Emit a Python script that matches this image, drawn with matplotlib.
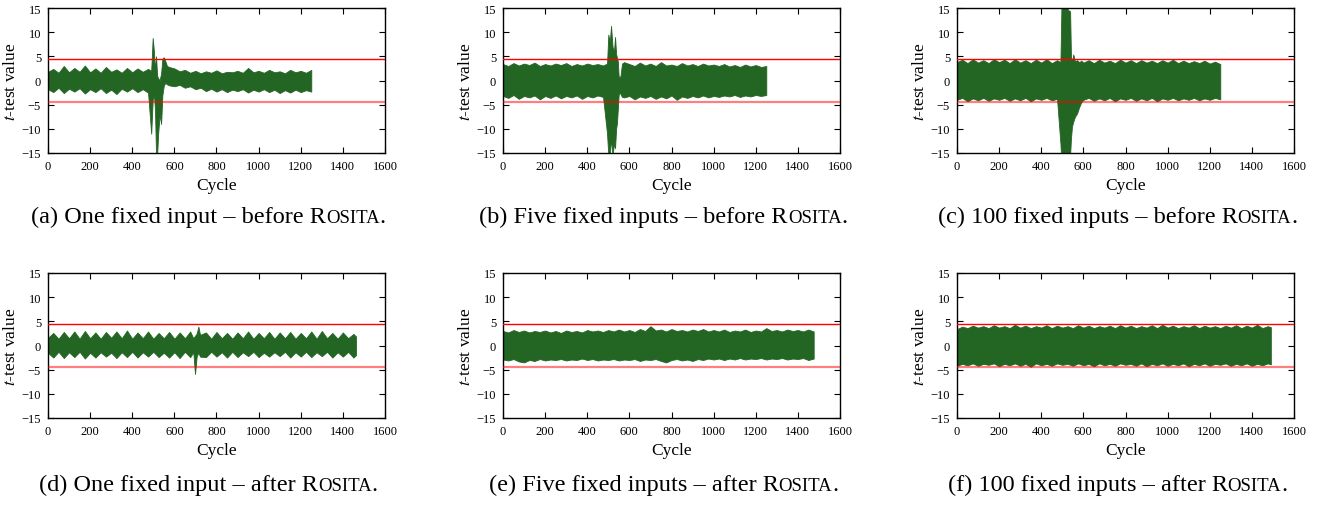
import matplotlib
matplotlib.use("Agg")
from matplotlib import pyplot as plt
from matplotlib.offsetbox import TextArea, HPacker, AnnotationBbox

plt.rcParams['font.family'] = ['Liberation Serif', 'DejaVu Serif']
plt.rcParams['mathtext.fontset'] = 'stix'

# ---- envelope of the t-test traces (cycle, upper, lower) ----
pre = list(range(0, 476, 25))
post = list(range(600, 1251, 25))

cyc_a = pre + [490, 497, 503, 508, 513, 518, 523, 530, 537, 543, 550, 557, 565, 575] + post
up_a = [1.8, 2.4, 1.6, 3.0, 1.7, 2.6, 1.8, 3.1, 1.7, 2.5, 1.6, 2.8, 1.8, 2.3, 1.6, 2.6, 1.7, 2.5, 1.8, 2.4,
        2.0, 8.8, 6.0, 2.0, 5.0, 1.0, 0.5, 0.0, 1.5, 4.5, 4.8, 4.0, 3.0, 2.8,
        2.5, 1.9, 2.2, 1.6, 2.0, 1.5, 1.9, 1.6, 2.1, 1.5, 1.8, 1.7, 2.0, 1.6, 2.6, 1.7, 2.0, 1.6, 2.2, 1.7,
        1.9, 1.5, 2.2, 1.7, 2.0, 1.6, 2.2]
lo_a = [-1.8, -2.4, -1.5, -2.6, -1.7, -2.3, -1.6, -2.7, -1.8, -2.4, -1.6, -2.6, -1.9, -2.8, -1.7, -2.3,
        -1.6, -2.4, -1.8, -2.5,
        -11.0, -4.0, -3.0, -6.0, -15.5, -15.5, -11.0, -7.0, -9.0, -3.0, -1.0, -0.5, -0.8, -1.0,
        -1.2, -0.9, -1.5, -1.2, -1.8, -1.5, -2.2, -1.7, -2.3, -1.8, -2.4, -1.9, -2.2, -1.8, -2.5, -1.9,
        -2.3, -1.8, -2.4, -1.9, -2.6, -2.0, -2.5, -1.9, -2.4, -2.0, -2.3]

cyc_b = pre + [494, 500, 507, 513, 520, 527, 532, 537, 541, 545, 549, 553, 558, 565, 575] + post
up_b = [3.4, 3.0, 3.6, 3.1, 3.5, 3.2, 3.7, 3.0, 3.4, 3.1, 3.5, 3.2, 3.6, 3.0, 3.4, 3.1, 3.5, 3.2, 3.4, 3.1,
        3.5, 9.5, 8.0, 11.3, 7.0, 6.0, 9.0, 5.5, 4.7, 4.0, 1.0, 0.5, 1.0, 3.5, 3.8,
        3.4, 3.0, 3.7, 3.1, 3.5, 3.0, 3.8, 3.1, 3.3, 3.0, 3.6, 3.1, 3.4, 3.0, 3.5, 3.1, 3.3, 3.0, 3.4, 2.9,
        3.2, 2.8, 3.3, 2.9, 3.2, 2.8, 3.0]
lo_b = [-3.2, -3.6, -3.0, -3.8, -3.2, -3.5, -3.1, -3.9, -3.2, -3.6, -3.1, -3.7, -3.2, -3.5, -3.1, -3.8,
        -3.2, -3.5, -3.1, -3.4,
        -11.0, -15.5, -15.5, -12.0, -15.5, -13.0, -14.0, -10.0, -8.8, -6.0, -3.0, -2.5, -2.8, -3.4, -3.5,
        -3.2, -3.9, -3.3, -3.6, -3.2, -3.8, -3.3, -3.7, -3.1, -4.0, -3.3, -3.6, -3.2, -3.5, -3.1, -3.5,
        -3.2, -3.4, -3.1, -3.3, -3.0, -3.4, -3.1, -3.3, -3.0, -3.2, -3.0]

cyc_c = pre + [491, 497, 505, 515, 521, 526, 532, 537, 541, 546, 552, 560, 570, 580, 590] + post
up_c = [3.8, 4.3, 3.6, 4.4, 3.7, 4.2, 3.6, 4.4, 3.8, 4.3, 3.6, 4.4, 3.7, 4.2, 3.6, 4.3, 3.7, 4.4, 3.6, 4.2,
        3.8, 18, 18, 18, 18, 14.5, 14.5, 14.3, 5.0, 3.8, 5.4, 4.0, 4.2, 3.8, 4.1,
        3.7, 4.2, 3.6, 4.3, 3.7, 4.1, 3.6, 4.3, 3.7, 4.2, 3.6, 4.2, 3.7, 4.1, 3.6, 4.2, 3.7, 4.3, 3.6, 4.1,
        3.6, 4.0, 3.6, 4.1, 3.5, 3.9, 3.4]
lo_c = [-4.0, -3.6, -4.3, -3.7, -4.1, -3.6, -4.2, -3.7, -4.0, -3.6, -4.2, -3.7, -4.1, -3.6, -4.3, -3.7,
        -4.0, -3.6, -4.1, -3.8,
        -13.0, -18, -18, -18, -18, -18, -18, -15.5, -12.0, -9.5, -8.5, -7.5, -6.8, -5.5, -4.5,
        -4.0, -3.6, -4.2, -3.7, -4.1, -3.6, -4.3, -3.7, -4.0, -3.6, -4.2, -3.7, -4.1, -3.6, -4.3, -3.7,
        -4.0, -3.6, -4.1, -3.7, -4.0, -3.6, -4.1, -3.7, -4.0, -3.6, -3.9]

cyc_d = list(range(0, 676, 25)) + [690, 698, 706, 714, 722] + list(range(750, 1451, 25)) + [1462]
up_d = [1.6, 2.6, 1.4, 2.8, 1.5, 2.9, 1.4, 3.0, 1.5, 2.7, 1.4, 2.8, 1.6, 2.9, 1.5, 3.1, 1.4, 2.7, 1.5, 2.9,
        1.4, 2.6, 1.5, 2.8, 1.4, 2.7, 1.5, 2.9,
        1.5, 2.0, 2.5, 3.9, 2.2,
        2.7, 1.4, 2.8, 1.5, 2.6, 1.4, 2.7, 1.5, 2.9, 1.4, 2.6, 1.5, 2.8, 1.4, 2.7, 1.5, 2.8, 1.4, 2.6, 1.5,
        2.9, 1.4, 3.0, 1.5, 2.6, 1.4, 2.7, 1.5, 2.4,
        1.9]
lo_d = [-1.5, -2.5, -1.3, -2.6, -1.4, -2.4, -1.3, -2.7, -1.5, -2.5, -1.4, -2.3, -1.5, -2.6, -1.4, -2.4,
        -1.3, -2.5, -1.4, -2.3, -1.3, -2.4, -1.5, -2.5, -1.4, -2.6, -1.3, -2.4,
        -1.4, -5.9, -2.2, -1.5, -2.3,
        -2.4, -1.3, -2.3, -1.4, -2.5, -1.3, -2.4, -1.4, -2.2, -1.3, -2.4, -1.5, -2.3, -1.4, -2.2, -1.3,
        -2.5, -1.4, -2.3, -1.3, -2.4, -1.4, -2.2, -1.3, -2.5, -1.4, -2.3, -1.3, -2.5,
        -2.0]

cyc_e = list(range(0, 1476, 25))
up_e = [3.0, 2.7, 3.2, 2.8, 3.1, 2.7, 3.0, 2.8, 3.1, 2.7, 3.0, 2.6, 3.1, 2.8, 3.0, 2.7, 3.2, 2.9, 3.1, 2.8,
        3.2, 2.9, 3.3, 2.9, 3.2, 2.8, 3.4, 3.0, 4.0, 3.1, 3.3, 2.9, 3.4, 3.0, 3.2, 2.9, 3.3, 3.0, 3.4, 2.9,
        3.2, 2.9, 3.3, 2.8, 3.1, 2.9, 3.3, 2.8, 3.1, 2.9, 3.6, 3.0, 3.2, 2.9, 3.3, 3.0, 3.2, 2.9, 3.3, 2.9]
lo_e = [-2.9, -3.1, -2.8, -3.3, -3.5, -3.0, -3.2, -2.8, -3.1, -2.9, -3.0, -2.8, -3.1, -2.9, -3.0, -2.7,
        -3.0, -2.8, -3.1, -2.9, -3.0, -2.8, -3.1, -2.9, -3.0, -2.8, -3.2, -2.9, -3.0, -2.8, -3.2, -3.5,
        -3.0, -2.8, -3.1, -2.9, -3.2, -2.8, -3.0, -2.7, -2.9, -2.7, -3.0, -2.7, -2.9, -2.6, -2.9, -2.7,
        -2.8, -2.6, -2.9, -2.7, -2.8, -2.6, -2.9, -2.7, -2.8, -2.6, -3.0, -2.7]

cyc_f = list(range(0, 1476, 25)) + [1490]
up_f = [3.4, 3.9, 3.6, 4.1, 3.7, 4.0, 3.6, 4.2, 3.7, 4.0, 3.6, 4.3, 3.7, 4.1, 3.6, 4.0, 3.7, 4.2, 3.6, 4.1,
        3.7, 4.0, 3.6, 4.2, 3.7, 4.1, 3.6, 4.0, 3.7, 4.1, 3.6, 4.2, 3.7, 4.1, 3.6, 4.0, 3.7, 4.2, 3.6, 4.3,
        3.7, 4.1, 3.6, 4.0, 3.7, 4.2, 3.6, 4.1, 3.7, 4.0, 3.6, 4.1, 3.7, 4.2, 3.6, 4.1, 3.7, 4.3, 3.6, 4.0,
        3.8]
lo_f = [-4.2, -3.8, -4.1, -3.7, -4.2, -3.8, -4.0, -3.7, -4.3, -3.8, -4.1, -3.7, -4.2, -3.8, -4.4, -3.7,
        -4.1, -3.8, -4.2, -3.7, -4.0, -3.8, -4.2, -3.7, -4.1, -3.8, -4.3, -3.7, -4.1, -3.8, -4.2, -3.7,
        -4.0, -3.8, -4.2, -3.7, -4.3, -3.8, -4.1, -3.7, -4.2, -3.8, -4.1, -3.7, -4.3, -3.8, -4.1, -3.7,
        -4.2, -3.8, -4.0, -3.7, -4.2, -3.8, -4.1, -3.7, -4.2, -3.8, -4.1, -3.7, -3.9]

threshold = 4.5
letters = ['a', 'b', 'c', 'd', 'e', 'f']
counts = ['One fixed input', 'Five fixed inputs', '100 fixed inputs'] * 2
stage = ['before'] * 3 + ['after'] * 3
traces = [(cyc_a, up_a, lo_a), (cyc_b, up_b, lo_b), (cyc_c, up_c, lo_c),
          (cyc_d, up_d, lo_d), (cyc_e, up_e, lo_e), (cyc_f, up_f, lo_f)]

green = '#236523'

fig = plt.figure(figsize=(13.21, 5.06), dpi=100)

lefts = [48, 503, 957]
tops = [9, 274]
W, H = 1321, 506

for i, (cyc, up, lo) in enumerate(traces):
    row, col = divmod(i, 3)
    x0 = lefts[col]
    y0 = tops[row]
    ax = fig.add_axes([x0 / W, 1 - (y0 + 145) / H, 337 / W, 145 / H])
    ax.fill_between(cyc, lo, up, color=green, lw=0.6, zorder=2)
    ax.axhline(threshold, color='#ff0000', lw=1.0, zorder=3)
    ax.axhline(-threshold, color='#ff0000', lw=1.6, alpha=0.5, zorder=3)
    ax.set_xlim(0, 1600)
    ax.set_ylim(-15, 15)
    ax.set_xticks(range(0, 1601, 200))
    ax.set_yticks(range(-15, 16, 5))
    ax.tick_params(direction='in', top=True, right=True, length=4, width=0.8,
                   labelsize=9, pad=5)
    for s in ax.spines.values():
        s.set_linewidth(1.0)
    ax.set_xlabel('Cycle', fontsize=12.5, labelpad=4)
    ax.set_ylabel(r'$\mathit{t}$-test value', fontsize=12.5, labelpad=2)

    # caption with small-caps ROSITA
    parts = [TextArea('(%s) %s \u2013 %s R' % (letters[i], counts[i], stage[i]),
                      textprops=dict(size=17.5, family='Liberation Serif')),
             TextArea('OSITA', textprops=dict(size=13.5, family='Liberation Serif')),
             TextArea('.', textprops=dict(size=17.5, family='Liberation Serif'))]
    box = HPacker(children=parts, align='baseline', pad=0, sep=0)
    cx = (x0 + 337 / 2 - 8) / W
    cy = 1 - (217 if row == 0 else 485) / H
    ab = AnnotationBbox(box, (cx, cy), xycoords='figure fraction', frameon=False,
                        box_alignment=(0.5, 0.5))
    fig.add_artist(ab)

plt.savefig('out.png', dpi=100)
